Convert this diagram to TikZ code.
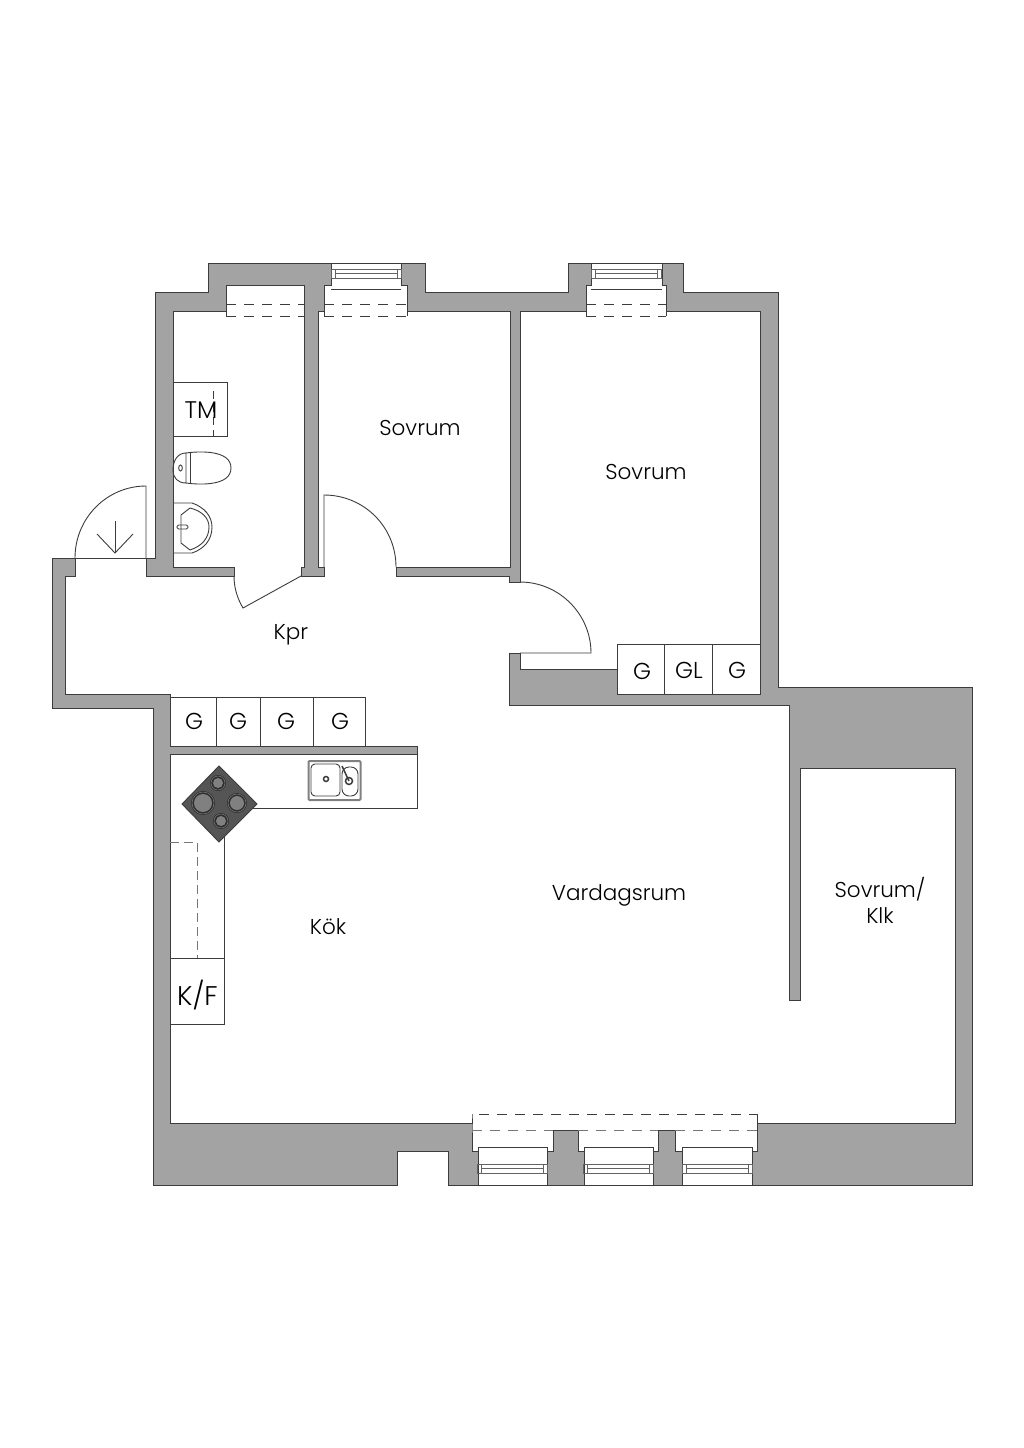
\documentclass[tikz,border=0pt]{standalone}
\usepackage{fontspec}
\setmainfont{Poppins Light}
\definecolor{vagg}{HTML}{A3A3A3}
\definecolor{linje}{HTML}{3C3C3C}
\definecolor{spis}{HTML}{555555}
\definecolor{platta}{HTML}{808080}
\definecolor{ring}{HTML}{2E2E2E}
\tikzset{
vaggline/.style={draw=linje,line width=1pt,line join=miter},
tunn/.style={draw=linje,line width=0.9pt},
streck/.style={draw=linje,line width=1pt,dash pattern=on 10pt off 8pt},
rum/.style={text=black,font=\fontsize{21.5}{26}\selectfont,inner sep=0pt,align=center},
skap/.style={text=black,font=\fontsize{23}{27}\selectfont,inner sep=0pt},
fonster/.pic={
\draw[tunn,draw=linje!80] (-35,-4.5) rectangle (35,4.5);
\draw[tunn,draw=linje!80] (-31,-4.5) rectangle (31,4.5);
\draw[tunn,draw=linje!80] (-31,-0.5)--(31,-0.5);
},
platte/.pic={
\fill[ring] (0,0) circle (#1+2);
\draw[platta,line width=0.5pt] (0,0) circle (#1+1);
\fill[platta] (0,0) circle (#1-1);
}
}
\begin{document}
\begin{tikzpicture}[x=1pt,y=-1pt]
\useasboundingbox (0,0) rectangle (1024,1448);
\path[vaggline,fill=vagg] (155,292)--(208,292)--(208,263)--(425,263)--(425,292)--(568,292)--(568,263)--(683,263)--(683,292)--(778,292)--(778,687)--(972,687)--(972,1185)--(448,1185)--(448,1151)--(397,1151)--(397,1185)--(153,1185)--(153,708)--(52,708)--(52,558)--(155,558)--cycle;
\path[vaggline,fill=white] (173,311)--(226,311)--(226,285)--(304,285)--(304,567)--(301,567)--(301,576)--(324,576)--(324,567)--(318,567)--(318,311)--(324,311)--(324,285)--(331,285)--(331,263)--(401,263)--(401,285)--(407,285)--(407,311)--(510,311)--(510,567)--(396,567)--(396,576)--(509,576)--(509,582)--(520,582)--(520,311)--(586,311)--(586,285)--(591,285)--(591,263)--(662,263)--(662,285)--(666,285)--(666,311)--(760,311)--(760,694)--(617,694)--(617,669)--(520,669)--(520,653)--(509,653)--(509,705)--(789,705)--(789,1000)--(800,1000)--(800,768)--(955,768)--(955,1123)--(757,1123)--(757,1151)--(752,1151)--(752,1185)--(682,1185)--(682,1151)--(675,1151)--(675,1130)--(658,1130)--(658,1151)--(653,1151)--(653,1185)--(584,1185)--(584,1151)--(578,1151)--(578,1130)--(553,1130)--(553,1151)--(547,1151)--(547,1185)--(478,1185)--(478,1151)--(472,1151)--(472,1114)--(472,1123)--(170,1123)--(170,754)--(417,754)--(417,746)--(170,746)--(170,694)--(65,694)--(65,576)--(75,576)--(75,558)--(146,558)--(146,576)--(234,576)--(234,567)--(173,567)--cycle;
\draw[tunn] (757,1123)--(757,1114);
\draw[tunn] (331,289)--(401,289);
\draw[tunn] (591,289)--(662,289);
\draw[tunn] (478,1151)--(478,1147)--(547,1147)--(547,1151);
\draw[tunn] (584,1151)--(584,1147)--(653,1147)--(653,1151);
\draw[tunn] (682,1151)--(682,1147)--(752,1147)--(752,1151);
\pic at (366.5,273.5) {fonster};
\pic at (626.5,273.5) {fonster};
\pic at (512.5,1168.5) {fonster};
\pic at (618.5,1168.5) {fonster};
\pic at (717,1168.5) {fonster};
\draw[streck] (226,304)--(304,304);
\draw[streck] (226,316)--(304,316);
\draw[tunn] (226,304)--(226,316);
\draw[streck] (324,304)--(407,304);
\draw[streck] (324,316)--(407,316);
\draw[tunn] (324,311)--(324,316);
\draw[tunn] (407,311)--(407,316);
\draw[streck] (586,304)--(666,304);
\draw[streck] (586,316)--(666,316);
\draw[tunn] (586,311)--(586,316);
\draw[tunn] (666,311)--(666,316);
\draw[streck] (479,1114)--(757,1114);
\draw[streck,draw=linje!70] (472,1130)--(553,1130);
\draw[streck,draw=linje!70] (578,1130)--(658,1130);
\draw[streck,draw=linje!70] (675,1130)--(757,1130);
\draw[tunn] (146,558)--(146,486) .. controls (107,486) and (75,518) .. (75,558);
\draw[tunn] (75,558)--(155,558);
\draw[tunn] (115,521)--(115,553);
\draw[tunn] (97,534)--(115,553)--(133,534);
\draw[tunn] (234,576) .. controls (234,587) and (237,598) .. (243,608)--(301,576);
\draw[tunn] (324,567)--(324,495) .. controls (364,495) and (396,527) .. (396,567);
\draw[tunn] (520,582) .. controls (559,582) and (591,614) .. (591,653)--(520,653);
\draw[tunn] (173,382)--(227,382)--(227,436)--(173,436);
\draw[streck,dash pattern=on 8pt off 5pt] (213,391)--(213,436);
\draw[tunn] (173,470) .. controls (173,460) and (178,453) .. (186,453)--(186,483) .. controls (178,483) and (173,478) .. (173,470);
\draw[tunn] (190,453)--(190,483);
\draw[tunn] (186,453) .. controls (200,451) and (231,450) .. (231,468) .. controls (231,486) and (200,485) .. (186,483);
\draw[tunn] (180.5,468) ellipse (1.8 and 3);
\draw[tunn] (173,503)--(192,503) .. controls (204,507) and (212,516) .. (212,527) .. controls (212,540) and (204,549) .. (192,553)--(173,553);
\draw[tunn] (181,515)--(190,508) .. controls (202,511) and (209,518) .. (209,527) .. controls (209,538) and (202,546) .. (190,550)--(181,543)--cycle;
\draw[tunn,rounded corners=1.5pt] (177,525) rectangle (188,529);
\fill[white] (170.6,697) rectangle (365,745.4);
\draw[tunn] (170,697)--(365,697)--(365,746);
\draw[tunn] (216,697)--(216,746);
\draw[tunn] (260,697)--(260,746);
\draw[tunn] (313,697)--(313,746);
\draw[tunn] (617,644)--(760,644);
\draw[tunn] (664,644)--(664,694);
\draw[tunn] (712,644)--(712,694);
\draw[tunn] (617,644)--(617,694);
\draw[tunn] (417,754)--(417,808)--(224,808)--(224,1024)--(170,1024);
\draw[tunn] (170,958)--(224,958);
\draw[streck,dash pattern=on 9pt off 5pt,draw=linje!70] (170,842)--(197,842)--(197,958);
\path[tunn,fill=spis] (219,766)--(257,804)--(219,842)--(182,804)--cycle;
\pic at (218,783) {platte=6};
\pic at (203,803) {platte=10};
\pic at (237,803) {platte=8};
\pic at (221,821) {platte=6};
\draw[tunn,draw=platta,line width=2pt,rounded corners=1pt] (308.5,761) rectangle (360.5,800);
\draw[tunn,rounded corners=4pt] (311,764) rectangle (340,796);
\draw[tunn,rounded corners=7pt] (342,767) rectangle (358,796);
\draw[tunn,line width=1.5pt] (326,779) circle (2.5);
\draw[tunn,line width=1.5pt] (349,781) circle (3.5);
\draw[tunn,line width=1.5pt] (342,766)--(349,781);
\node[rum] (sovrumett) at (420,428) {Sovrum};
\node[rum] (sovrumtva) at (646,472) {Sovrum};
\node[rum] (kpr) at (291,635) {Kpr};
\node[rum] (kok) at (328,927) {Kök};
\node[rum] (vardagsrum) at (619,895) {Vardagsrum};
\node[rum] (sovrumklk) at (880,900) {Sovrum/\\Klk};
\node[skap,font=\fontsize{24}{27}\selectfont] (tm) at (201,410.5) {TM};
\node[skap,font=\fontsize{27}{27}\selectfont] (kf) at (197.5,995) {K/F};
\node[skap] (gett) at (194,721) {G};
\node[skap] (gtva) at (238,721) {G};
\node[skap] (gtre) at (286,721) {G};
\node[skap] (gfyra) at (340,721) {G};
\node[skap] (gfem) at (642,671) {G};
\node[skap] (gl) at (689,670) {GL};
\node[skap] (gsex) at (737,670) {G};
\end{tikzpicture}
\end{document}
